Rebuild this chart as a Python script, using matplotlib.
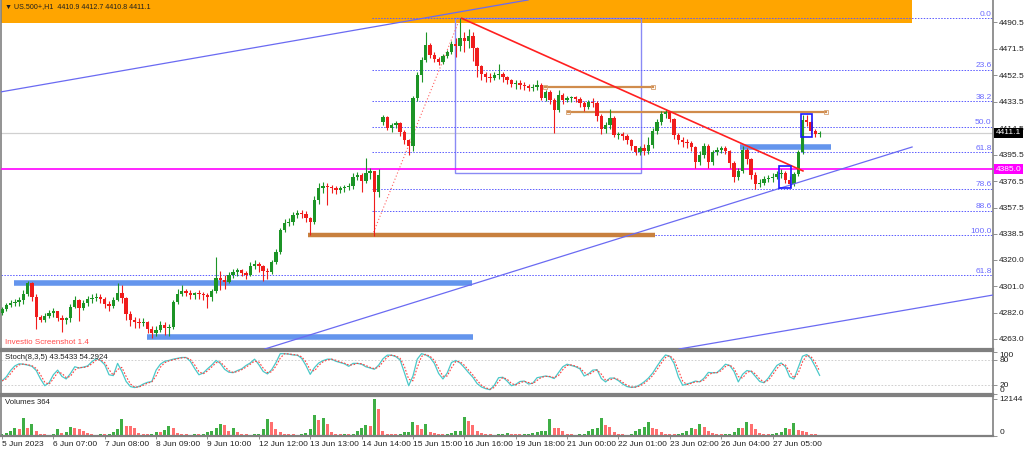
import numpy as np
import matplotlib
matplotlib.use("Agg")
import matplotlib.pyplot as plt
import matplotlib.transforms as mtransforms
from matplotlib.patches import Rectangle

plt.rcParams['font.family'] = ['Liberation Sans', 'DejaVu Sans']

# ---------------- data (2-hour candles, US.500+) ----------------
first_open = 4281.5
gap_opens = {89: 4419.0}
closes = [
    4284.6, 4287.4, 4288.9, 4289.6, 4290.8, 4295.3, 4303.3, 4293.2, 4278.8, 4276.7, 4279.5, 4281.7,
    4282.9, 4278.1, 4276.7, 4277.9, 4286.0, 4291.0, 4285.3, 4288.9, 4291.8, 4292.5, 4293.2, 4291.8,
    4288.2, 4286.7, 4291.0, 4296.1, 4292.5, 4281.0, 4276.7, 4275.2, 4274.5, 4275.2, 4270.2, 4267.3,
    4269.5, 4273.1, 4270.9, 4271.6, 4289.6, 4295.3, 4297.5, 4296.1, 4294.6, 4295.8, 4295.3, 4294.6,
    4293.2, 4297.5, 4306.8, 4305.4, 4304.2, 4309.0, 4311.2, 4312.3, 4310.4, 4309.0, 4315.5, 4316.9,
    4315.5, 4311.9, 4311.2, 4318.3, 4325.5, 4341.3, 4346.4, 4347.1, 4352.1, 4353.6, 4352.5, 4350.0,
    4347.1, 4362.9, 4371.5, 4373.0, 4372.3, 4371.5, 4370.1, 4371.5, 4372.4, 4373.0, 4379.4, 4380.9,
    4376.6, 4382.3, 4383.5, 4368.7, 4380.9, 4422.6, 4414.7, 4416.8, 4418.3, 4411.8, 4406.0, 4401.7,
    4436.2, 4452.8, 4463.5, 4474.3, 4467.1, 4464.3, 4462.1, 4466.4, 4469.3, 4475.0, 4473.6, 4479.4,
    4477.2, 4480.8, 4472.2, 4459.2, 4453.5, 4451.3, 4450.5, 4452.8, 4453.5, 4451.3, 4449.2, 4446.3,
    4447.1, 4445.5, 4444.9, 4443.4, 4444.2, 4445.6, 4436.2, 4440.5, 4434.8, 4427.6, 4438.4, 4434.8,
    4436.2, 4437.0, 4435.5, 4432.6, 4429.8, 4433.4, 4432.6, 4423.3, 4413.9, 4416.8, 4421.9, 4409.6,
    4410.6, 4408.9, 4406.0, 4401.7, 4397.4, 4400.3, 4398.1, 4402.4, 4412.5, 4419.0, 4424.7, 4426.2,
    4421.1, 4409.6, 4406.0, 4404.6, 4403.9, 4401.0, 4390.2, 4395.3, 4401.7, 4390.2, 4397.4, 4398.9,
    4400.3, 4398.1, 4389.5, 4379.4, 4383.8, 4398.9, 4392.4, 4380.9, 4374.4, 4375.1, 4378.0, 4378.7,
    4379.4, 4381.6, 4382.3, 4377.3, 4374.4, 4381.6, 4397.4, 4420.4, 4419.0, 4412.5, 4410.4, 4411.1,
]
highs = [
    4286, 4289, 4291, 4292, 4293, 4298, 4304.5, 4304, 4295, 4280, 4282, 4284,
    4285, 4283, 4280, 4279, 4288, 4294, 4292, 4291, 4294, 4295, 4296, 4295,
    4293, 4290, 4293, 4303, 4302, 4293, 4283, 4279, 4278, 4278, 4276, 4272,
    4272, 4276, 4275, 4274, 4291, 4299, 4302, 4299, 4298, 4297, 4298, 4297,
    4296, 4299, 4322, 4312, 4309, 4311, 4313, 4314, 4313, 4312, 4318, 4320,
    4318, 4316, 4314, 4320, 4328, 4343, 4349, 4350, 4354, 4356, 4356, 4355,
    4351, 4366, 4375, 4376, 4375, 4374, 4373, 4373, 4374, 4375, 4382, 4383,
    4382, 4393, 4386, 4384, 4385, 4424, 4423, 4418, 4420, 4419, 4413, 4407,
    4438, 4455, 4466, 4483.6, 4476, 4469, 4466, 4468, 4471, 4477, 4479, 4493.5,
    4484, 4486, 4484, 4473, 4460, 4455, 4454, 4455, 4461, 4455, 4452, 4450,
    4449, 4449, 4448, 4446, 4446, 4449, 4447, 4442, 4442, 4436, 4442, 4440,
    4438, 4438, 4438, 4437, 4434, 4435, 4436, 4434, 4425, 4419, 4428, 4423,
    4412, 4412, 4410, 4407, 4402, 4402, 4403, 4408, 4415, 4421, 4427, 4428,
    4427, 4422, 4411, 4408, 4407, 4405, 4402, 4398, 4404, 4403, 4399, 4401,
    4402, 4402, 4399, 4391, 4386, 4402, 4400, 4393, 4383, 4378, 4380, 4381,
    4382, 4384, 4385, 4384, 4380, 4383, 4399, 4424, 4424, 4420, 4414, 4412.7,
]
lows = [
    4280, 4283, 4286, 4287, 4287, 4288, 4294, 4290, 4270, 4275, 4275, 4278,
    4279, 4276, 4268, 4274, 4275, 4285, 4276, 4284, 4287, 4289, 4290, 4289,
    4285, 4283, 4285, 4290, 4289, 4277, 4272, 4271, 4271, 4272, 4267, 4264,
    4265, 4268, 4266, 4265, 4270, 4288, 4294, 4294, 4292, 4292, 4292, 4291,
    4285, 4290, 4296, 4298, 4299, 4303, 4307, 4308, 4308, 4306, 4308, 4313,
    4311, 4305, 4306, 4310, 4317, 4324, 4340, 4344, 4345, 4350, 4350, 4347,
    4338, 4346, 4360, 4368, 4359, 4368, 4367, 4368, 4369, 4370, 4371, 4377,
    4369, 4375, 4378, 4337, 4365, 4417, 4413, 4412, 4415, 4409, 4403, 4395,
    4398, 4434, 4448, 4462, 4465, 4462, 4460, 4461, 4465, 4468, 4466, 4470,
    4469, 4472, 4463, 4451, 4449, 4448, 4448, 4449, 4450, 4448, 4446, 4444,
    4443, 4443, 4442, 4441, 4441, 4442, 4435, 4434, 4432, 4411, 4426, 4432,
    4433, 4433, 4433, 4430, 4427, 4428, 4430, 4420, 4410, 4411, 4414, 4408,
    4407, 4406, 4403, 4399, 4395, 4395, 4395, 4396, 4400, 4410, 4417, 4422,
    4419, 4407, 4403, 4401, 4400, 4398, 4386, 4388, 4393, 4386, 4388, 4395,
    4397, 4396, 4386, 4376, 4377, 4382, 4389, 4378, 4371, 4372, 4374, 4376,
    4376, 4378, 4379, 4375, 4372, 4373, 4380, 4396, 4416, 4410, 4408, 4408.5,
]
volumes = [
    600, 900, 1500, 2600, 2200, 5800, 2500, 3800, 1800, 700, 500, 400,
    600, 2200, 900, 1200, 3100, 2600, 2200, 1500, 900, 500, 400, 600,
    500, 700, 1400, 2200, 5500, 3400, 3200, 2600, 1100, 700, 500, 600,
    1400, 1200, 2000, 3300, 2500, 1000, 600, 500, 400, 600, 500, 800,
    1200, 1800, 2500, 3900, 3600, 1800, 2500, 1200, 700, 500, 400, 500,
    700, 2200, 5500, 4600, 2200, 1300, 800, 600, 500, 400, 500, 1100,
    2200, 6900, 5200, 5800, 4000, 1300, 700, 500, 600, 500, 800, 1500,
    2500, 3700, 3200, 12144, 8860, 1500, 700, 600, 500, 800, 1200, 1300,
    4700, 3600, 2400, 3900, 1400, 900, 600, 500, 700, 1100, 1500, 1800,
    6100, 5000, 3500, 1500, 900, 700, 500, 400, 500, 600, 1100, 800,
    600, 500, 600, 800, 1000, 1300, 1500, 1700, 5600, 2700, 2500, 1500,
    700, 500, 400, 500, 700, 1500, 2300, 2500, 5900, 3500, 3000, 1200,
    700, 500, 400, 600, 1800, 2400, 3000, 4600, 2700, 2200, 1200, 800,
    600, 500, 700, 900, 1500, 2500, 2200, 3900, 2800, 1500, 900, 600,
    500, 500, 800, 1200, 2600, 2500, 4700, 3800, 2400, 1100, 600, 500,
    500, 900, 1300, 2500, 2400, 4400, 1900, 1700, 1200, 800, 700, 364,
]
stoch_main = [
    30.5, 40, 55, 66, 71, 70, 68, 65, 55, 35, 19, 26,
    45, 56, 41, 35, 48, 64, 61, 63, 66, 76, 83, 79,
    69, 45, 43, 72, 53, 29, 17, 14.6, 17, 23, 27, 29,
    56, 70, 77, 79, 82, 84, 86, 86, 77, 60, 45, 49,
    59, 68, 79, 72, 58, 51, 50, 55, 59, 67, 73, 82,
    69, 53, 47, 57, 74, 95, 95, 94, 92, 91.5, 84, 67,
    46, 62, 73, 78.5, 82, 82, 77, 74, 71, 65, 72, 72,
    70, 64, 61, 58, 68, 83, 91.5, 91.5, 88, 80, 50, 19,
    42, 82, 95, 92, 86, 72, 48, 35, 49, 74, 79, 73,
    62, 50, 39, 24, 16, 12, 9.5, 20, 38, 39, 30, 19,
    22, 29, 30, 23, 25, 38, 40, 42, 40, 36, 50, 64,
    70, 67, 64, 59, 42, 47, 56, 57, 36, 28, 37, 37,
    31, 23, 17, 15, 16, 21, 28, 37, 49, 65, 80, 92,
    89, 72, 40, 20, 23, 26, 30, 28, 37, 50.5, 49.5, 50,
    59, 70, 67, 53, 28, 46, 55, 53, 41, 29, 26, 37,
    52, 67, 73, 64, 40, 35, 62, 89, 93, 83, 64, 43.5,
]
date_labels = ['5 Jun 2023', '6 Jun 07:00', '7 Jun 08:00', '8 Jun 09:00', '9 Jun 10:00',
               '12 Jun 12:00', '13 Jun 13:00', '14 Jun 14:00', '15 Jun 15:00', '16 Jun 16:00',
               '19 Jun 18:00', '21 Jun 00:00', '22 Jun 01:00', '23 Jun 02:00', '26 Jun 04:00',
               '27 Jun 05:00']
label_bars = list(range(0, 12 * len(date_labels), 12))
price_ticks = [4490.5, 4471.5, 4452.5, 4433.5, 4414.5, 4395.5, 4376.5, 4357.5, 4338.5,
               4320.0, 4301.0, 4282.0, 4263.0]
fib_levels = [0.0, 23.6, 38.2, 50.0, 61.8, 78.6, 88.6, 100.0]
fib_high, fib_low = 4493.5, 4337.5
fib_start_bar, fib_high_bar = 86.5, 107.0
fib_ext_price, fib_ext_label = 4309.0, '61.8'
current_price = 4411.1
magenta_price = 4385.0
header = 'US.500+,H1  4410.9 4412.7 4410.8 4411.1'
stoch_text = 'Stoch(8,3,5) 43.5433 54.2924'
volume_text = 'Volumes 364'
# drawn objects: (bar0, bar1, price)
blue_zones = [(2.8, 109.8, 4303.6), (33.9, 110.0, 4264.4), (172.4, 193.7, 4401.0)]
brown_zone = (71.5, 152.6, 4337.8)
brown_lines = [(126.9, 152.1, 4444.4), (132.2, 192.5, 4426.5)]
# trend lines: (bar0, price0, bar1, price1)
red_trend = (107.4, 4493.5, 187.1, 4383.8)
blue_trends = [(-0.47, 4440.5, 122.9, 4506.7), (61.4, 4255.8, 212.6, 4401.0), (158.2, 4255.8, 231.5, 4294.6)]
orange_box = (-1.0, 212.6, 4490.1, 4520.0)
range_box = (105.8, 149.3, 4382.3, 4493.5)
small_boxes = [(181.5, 184.3, 4371.5, 4387.3), (186.7, 189.3, 4408.4, 4424.7)]

# ---------------- figure ----------------
W, H = 1024, 449
fig = plt.figure(figsize=(W / 100, H / 100), dpi=100)
fig.patch.set_facecolor('white')


def fr(x0, y0, x1, y1):
    return [x0 / W, 1 - y1 / H, (x1 - x0) / W, (y1 - y0) / H]


ax = fig.add_axes(fr(1, 0, 993, 349))
axs = fig.add_axes(fr(1, 351, 993, 394))
axv = fig.add_axes(fr(1, 396, 993, 436))
XL = (-0.234, 231.5)
FS = 6
GRAY = '#808080'
for a in (ax, axs, axv):
    a.set_xlim(*XL)
    a.set_facecolor('white')
    a.yaxis.tick_right()
    a.tick_params(axis='y', direction='out', length=3, width=0.6, color=GRAY,
                  labelsize=FS, pad=1.5, labelcolor='#202020')
    a.tick_params(axis='x', bottom=False, labelbottom=False)
    for s in a.spines.values():
        s.set_color(GRAY)
        s.set_linewidth(1.2)
    a.spines['top'].set_linewidth(1.6)
    a.spines['bottom'].set_linewidth(1.6)

ax.spines['top'].set_visible(False)
ax.set_ylim(4255.8, 4506.67)
ax.set_yticks(price_ticks)
ax.set_yticklabels([f'{p:.1f}' for p in price_ticks])

n = len(closes)
idx = np.arange(n)
opens = [first_open] + closes[:-1]
for k, v in gap_opens.items():
    opens[k] = v
opens = np.array(opens)
c = np.array(closes)
hi = np.maximum(np.array(highs), np.maximum(opens, c))
lo = np.minimum(np.array(lows), np.minimum(opens, c))
bull = c >= opens
col = np.where(bull, '#1c9426', '#f01c1c')

# orange box
ob = orange_box
ax.add_patch(Rectangle((ob[0], ob[2]), ob[1] - ob[0], ob[3] - ob[2], fc='#FFA500', ec='none', zorder=1))
# range rectangle
rb = range_box
ax.add_patch(Rectangle((rb[0], rb[2]), rb[1] - rb[0], rb[3] - rb[2], fc='none', ec='#8a8af5', lw=1.0, zorder=2))

# horizontal lines
ax.axhline(current_price, color='#d0d0d0', lw=0.9, zorder=1.5)
ax.axhline(magenta_price, color='#ff00ff', lw=1.2, zorder=2.6)

# fib levels
for lv in fib_levels:
    p = fib_high - lv / 100.0 * (fib_high - fib_low)
    ax.plot([fib_start_bar, XL[1]], [p, p], color='#5a5aff', lw=0.7, ls=(0, (1.5, 1.5)), zorder=2.2)
    ax.text(XL[1] - 0.3, p + 0.3, f'{lv:.1f}', color='#6a6aff', fontsize=FS, ha='right', va='bottom', zorder=4)
ax.plot([XL[0], XL[1]], [fib_ext_price, fib_ext_price], color='#5a5aff', lw=0.7, ls=(0, (1.5, 1.5)), zorder=2.2)
ax.text(XL[1] - 0.3, fib_ext_price + 0.3, fib_ext_label, color='#6a6aff', fontsize=FS, ha='right', va='bottom', zorder=4)
ax.plot([fib_start_bar, fib_high_bar], [fib_low, fib_high], color='#ff6060', lw=0.8, ls=(0, (1, 2)), zorder=2.3)

# zones
for b0, b1, p in blue_zones:
    ax.plot([b0, b1], [p, p], color='#6495ED', lw=4.0, solid_capstyle='butt', zorder=2.4)
b0, b1, p = brown_zone
ax.plot([b0, b1], [p, p], color='#c8803e', lw=3.2, solid_capstyle='butt', zorder=2.4)
for b0, b1, p in brown_lines:
    ax.plot([b0, b1], [p, p], color='#d08c4c', lw=1.6, zorder=2.4)
    ax.plot([b0, b1], [p, p], ls='none', marker='s', ms=2.5, mfc='none', mec='#d6a070', mew=0.6, zorder=2.4)

# candles
ax.vlines(idx, lo, hi, colors=col, lw=0.8, zorder=3)
body = np.maximum(np.abs(c - opens), 0.4)
ax.bar(idx, body, bottom=np.minimum(opens, c), width=0.78, color=col, lw=0, zorder=3.1)

# trend lines
x0, p0, x1, p1 = red_trend
ax.plot([x0, x1], [p0, p1], color='#ff2020', lw=1.2, zorder=3.3)
for x0, p0, x1, p1 in blue_trends:
    ax.plot([x0, x1], [p0, p1], color='#6a6af2', lw=0.9, zorder=3.3)
for b0, b1, q0, q1 in small_boxes:
    ax.add_patch(Rectangle((b0, q0), b1 - b0, q1 - q0, fc='none', ec='#1a1aff', lw=1.2, zorder=3.4))

# texts
ax.text(0.004, 0.981, '\u25bc ' + header, transform=ax.transAxes, fontsize=5.1, color='#202020',
        ha='left', va='center', zorder=5)
ax.text(0.004, 0.018, 'Investio Screenshot 1.4', transform=ax.transAxes, fontsize=5.8, color='#ff4a4a',
        ha='left', va='center', zorder=5)
bt = mtransforms.blended_transform_factory(ax.transAxes, ax.transData)
ax.text(1.003, current_price, f'{current_price:.1f}', transform=bt, fontsize=FS, color='white', ha='left',
        va='center', zorder=6, clip_on=False,
        bbox=dict(boxstyle='square,pad=0.2', fc='black', ec='none'))
ax.text(1.003, magenta_price, f'{magenta_price:.1f}', transform=bt, fontsize=FS, color='white', ha='left',
        va='center', zorder=6, clip_on=False,
        bbox=dict(boxstyle='square,pad=0.2', fc='#ff00ff', ec='none'))

# stochastic
sm = np.array(stoch_main)
sig = np.concatenate([[sm[0]], (sm[1:] + sm[:-1]) / 2.0])
axs.set_ylim(-0.7, 101.4)
axs.axhline(80, color='#c8c8c8', lw=0.6, ls=(0, (2, 2)))
axs.axhline(20, color='#c8c8c8', lw=0.6, ls=(0, (2, 2)))
axs.plot(idx, sm, color='#4cc9c9', lw=0.9, zorder=3)
axs.plot(idx, sig, color='#ff4040', lw=0.8, ls=(0, (1.5, 1.5)), zorder=3.1)
axs.set_yticks([100, 80, 20, 0])
axs.set_yticklabels(['100', '80', '20', '0'])
for lab, va in zip(axs.get_yticklabels(), ['top', 'center', 'center', 'bottom']):
    lab.set_va(va)
axs.text(0.004, 0.86, stoch_text, transform=axs.transAxes, fontsize=5.6, color='#202020', ha='left', va='center')

# volumes
v = np.array(volumes)
vcol = ['#3fae45'] + ['#3fae45' if v[i] >= v[i - 1] else '#ff6f6f' for i in range(1, n)]
axv.bar(idx, v, width=0.7, color=vcol, lw=0)
axv.set_ylim(0, 13130)
axv.set_yticks([0, 12144])
axv.set_yticklabels(['0', '12144'])
for lab, va in zip(axv.get_yticklabels(), ['bottom', 'center']):
    lab.set_va(va)
axv.text(0.004, 0.85, volume_text, transform=axv.transAxes, fontsize=5.6, color='#202020', ha='left', va='center')
axv.set_xticks(label_bars)
axv.set_xticklabels(date_labels, ha='left')
axv.tick_params(axis='x', bottom=True, labelbottom=True, direction='out', length=2.5, width=0.6,
                color=GRAY, labelsize=FS, pad=1, labelcolor='#202020')

fig.savefig('out.png', dpi=100, facecolor='white')
